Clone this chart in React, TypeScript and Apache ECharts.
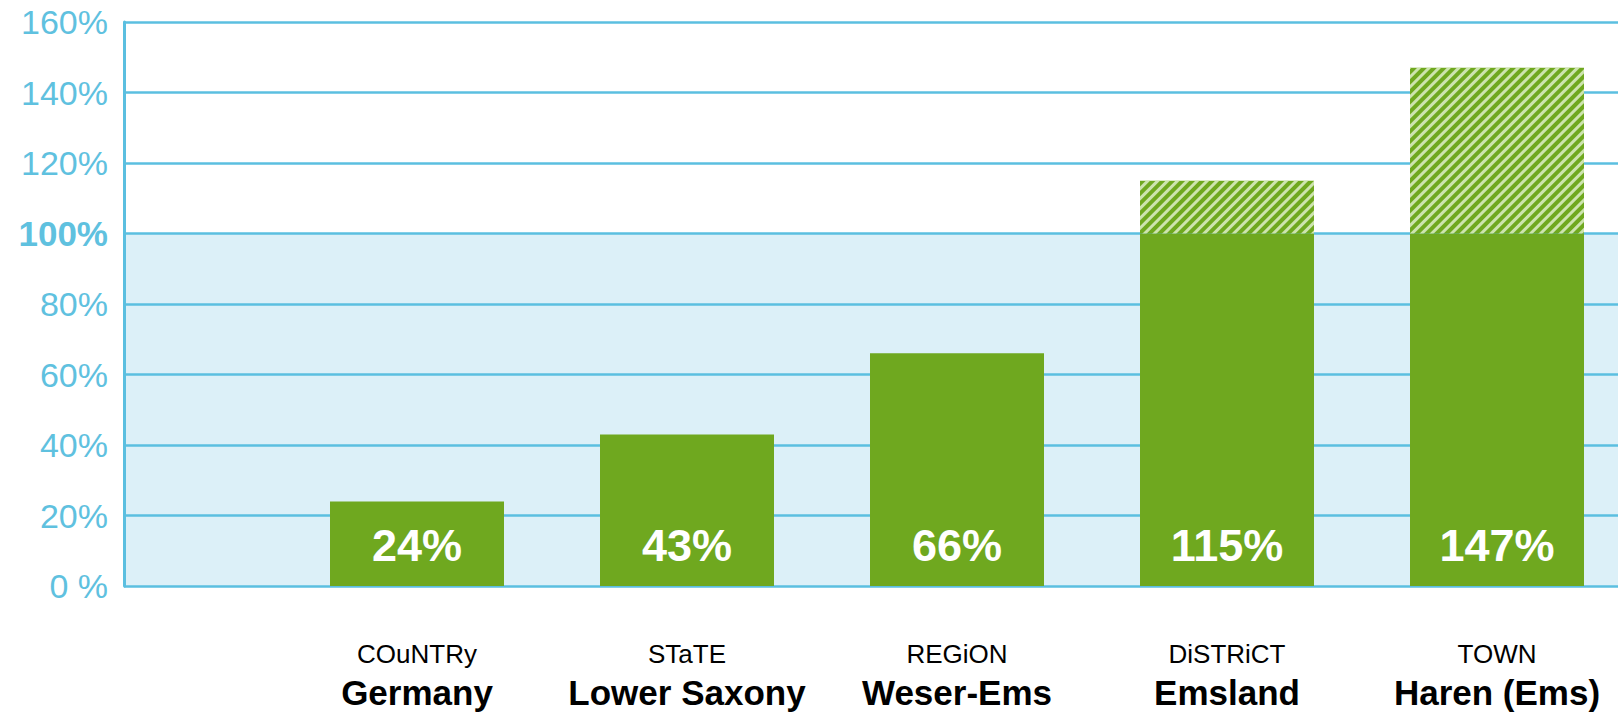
import React, { useEffect, useRef } from "react";
import * as echarts from "echarts";

const levels = ["COuNTRy", "STaTE", "REGiON", "DiSTRiCT", "TOWN"];
const names = ["Germany", "Lower Saxony", "Weser-Ems", "Emsland", "Haren (Ems)"];
const values = [24, 43, 66, 115, 147];
const yTicks = [0, 20, 40, 60, 80, 100, 120, 140, 160];

const BLUE = "#5bbfe0";
const LABEL_BLUE = "#5fc1df";
const BAND = "#dcf0f8";
const GREEN = "#6fa81f";

const W = 1660;

export default function App() {
  const ref = useRef<HTMLDivElement>(null);
  useEffect(() => {
    if (!ref.current) return;
    const chart = echarts.init(ref.current, null, { renderer: "svg" });
    const base = values.map((v) => Math.min(v, 100));
    const excess = values.map((v) => Math.max(v - 100, 0));
    const cats = levels.map((l, i) => l + "\n" + names[i]);
    chart.setOption({
      animation: false,
      grid: [
        { left: 124, right: W - 1618, top: 22, bottom: 127 },
        { left: 282, width: 1350, top: 22, bottom: 127 },
      ],
      xAxis: [
        { gridIndex: 0, type: "value", min: 0, max: 1, show: false },
        {
          gridIndex: 1,
          type: "category",
          data: cats,
          axisLine: { show: false },
          axisTick: { show: false },
          axisLabel: {
            margin: 49,
            formatter: (v: string) => {
              const [a, b] = v.split("\n");
              return "{s|" + a + "}\n{b|" + b + "}";
            },
            rich: {
              s: { fontSize: 26, lineHeight: 38, color: "#000", fontFamily: "Liberation Sans" },
              b: { fontSize: 35, lineHeight: 38, fontWeight: "bold", color: "#000", fontFamily: "Liberation Sans" },
            },
          },
        },
      ],
      yAxis: [
        {
          gridIndex: 0,
          type: "value",
          min: 0,
          max: 160,
          interval: 20,
          axisLine: { show: true, lineStyle: { color: BLUE, width: 3 } },
          axisTick: { show: false },
          splitLine: { show: true, lineStyle: { color: BLUE, width: 2.5 } },
          splitArea: {
            show: true,
            areaStyle: { color: [BAND, BAND, BAND, BAND, BAND, "rgba(255,255,255,0)", "rgba(255,255,255,0)", "rgba(255,255,255,0)"] },
          },
          axisLabel: {
            margin: 16,
            fontSize: 34,
            color: LABEL_BLUE,
            fontFamily: "Liberation Sans",
            formatter: (v: number) => (v === 0 ? "0 %" : v === 100 ? "{b|100%}" : v + "%"),
            rich: {
              b: { fontSize: 35, fontWeight: "bold", color: LABEL_BLUE, fontFamily: "Liberation Sans" },
            },
          },
        },
        { gridIndex: 1, type: "value", min: 0, max: 160, show: false },
      ],
      series: [
        {
          type: "bar",
          xAxisIndex: 1,
          yAxisIndex: 1,
          stack: "a",
          barWidth: 174,
          data: base,
          itemStyle: { color: GREEN },
          label: {
            show: true,
            position: "insideBottom",
            distance: 18,
            fontSize: 45,
            fontWeight: "bold",
            color: "#fff",
            fontFamily: "Liberation Sans",
            formatter: (p: any) => values[p.dataIndex] + "%",
          },
        },
        {
          type: "bar",
          xAxisIndex: 1,
          yAxisIndex: 1,
          stack: "a",
          barWidth: 174,
          data: excess,
          itemStyle: {
            color: GREEN,
            decal: {
              symbol: "rect",
              symbolSize: 1,
              dashArrayX: [[1, 0]],
              dashArrayY: [2.5, 4],
              rotation: -Math.PI / 4,
              color: "rgba(215,235,190,0.9)",
            },
          },
        },
      ],
    });
    return () => chart.dispose();
  }, []);
  return (
    <div
      ref={ref}
      style={{ position: "fixed", left: 0, top: 0, width: W, height: 713, background: "#fff" }}
    />
  );
}
